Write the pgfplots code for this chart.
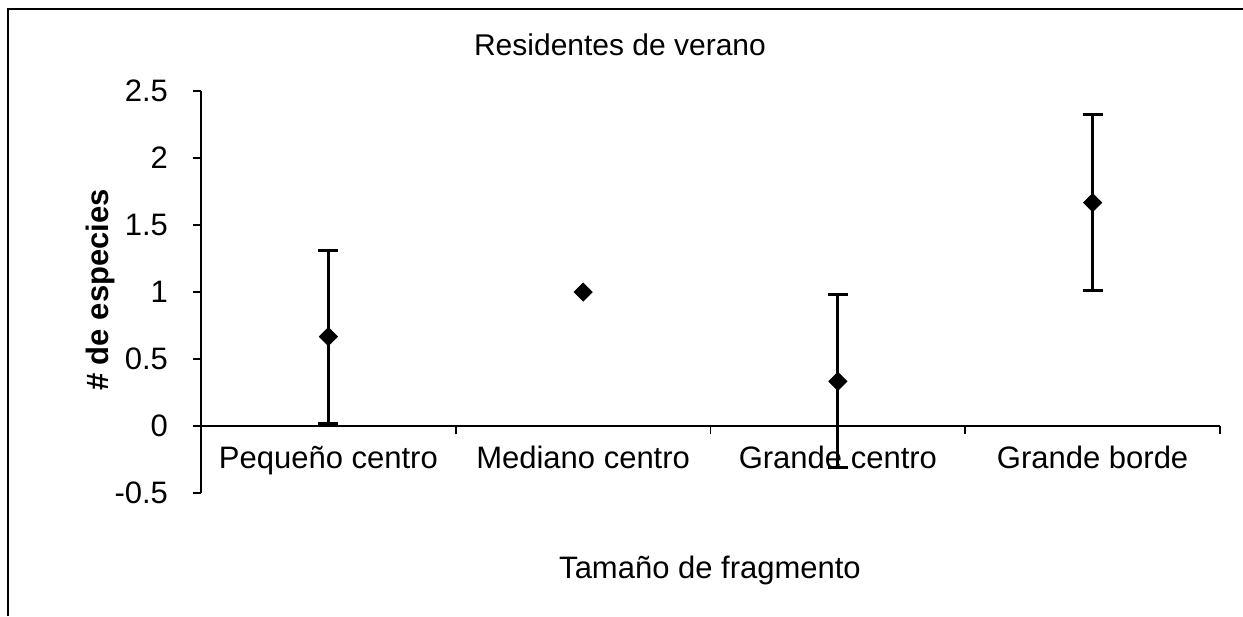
\documentclass[border=0pt]{standalone}
\usepackage{pgfplots}
\pgfplotsset{compat=1.18}
\usepackage{fontspec}
\setmainfont{Liberation Sans}
\begin{document}
\begin{tikzpicture}[x=1bp,y=1bp]
\useasboundingbox (-100.5,-61.5) rectangle (521,246.5);
\draw[line width=1.2bp] (-96.5,-61.5) -- (-96.5,242) -- (521,242);
\begin{axis}[at={(0,0)}, anchor=south west, scale only axis,
  width=509.5bp, height=201bp,
  xmin=-0.5, xmax=3.5, ymin=-0.5, ymax=2.5,
  axis y line*=left, axis x line*=middle,
  axis line style={line width=0.8bp},
  xtick={0,1,2,3},
  xticklabels={Pequeño centro, Mediano centro, Grande centro, Grande borde},
  minor xtick={-0.5,0.5,1.5,2.5,3.5},
  major x tick style={draw=none},
  minor tick length=4bp, major tick length=4bp,
  tick style={line width=0.8bp, black},
  ytick={-0.5,0,0.5,1,1.5,2,2.5},
  yticklabels={-0.5,0,0.5,1,1.5,2,2.5},
  tick align=outside,
  font=\fontsize{15.5bp}{18bp}\selectfont,
  xticklabel style={yshift=-2.5bp},
  yticklabel style={xshift=-9bp},
  clip=false,
]
\addplot[only marks, mark=square*, mark size=3.2bp, mark options={rotate=45, fill=black, draw=black},
  error bars/.cd, y dir=both, y explicit,
  error bar style={line width=1.5bp, black},
  error mark options={rotate=90, mark size=5bp, line width=1.5bp, black}]
  table[x=x, y=y, y error=err] {
x y err
0 0.667 0.645
2 0.333 0.645
3 1.667 0.655
};
\addplot[only marks, mark=square*, mark size=3.2bp, mark options={rotate=45, fill=black, draw=black}]
  table[x=x, y=y] {
x y
1 1
};
\end{axis}
\node[font=\fontsize{15bp}{18bp}\selectfont] at (209.5,224) {Residentes de verano};
\node[font=\fontsize{15.5bp}{18bp}\selectfont] at (254.5,-38.5) {Tamaño de fragmento};
\node[font=\fontsize{15.5bp}{18bp}\selectfont\bfseries, rotate=90] at (-50.5,101.5) {\# de especies};
\end{tikzpicture}
\end{document}
